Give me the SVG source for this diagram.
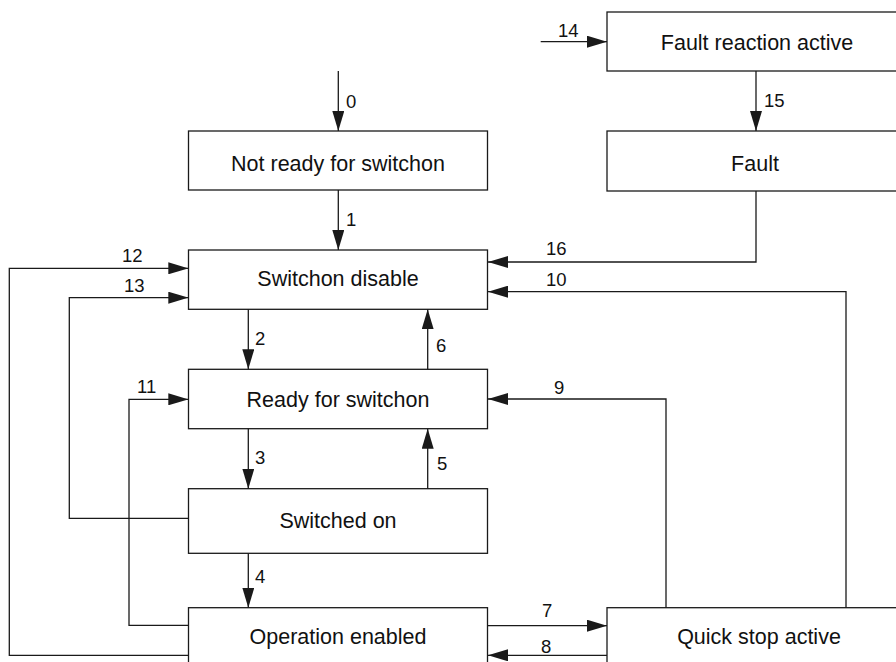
<svg xmlns="http://www.w3.org/2000/svg" width="896" height="662" viewBox="0 0 896 662">
<style>
.box{fill:#ffffff;stroke:#1a1a1a;stroke-width:1.3}
.st{font-family:"Liberation Sans",Arial,sans-serif;font-size:21.5px;fill:#111;text-anchor:middle}
.lb{font-family:"Liberation Sans",Arial,sans-serif;font-size:18.5px;fill:#111}
.cn{fill:none;stroke:#1a1a1a;stroke-width:1.3;marker-end:url(#ah)}
</style>
<defs>
<marker id="ah" markerUnits="userSpaceOnUse" markerWidth="20" markerHeight="12" refX="20" refY="6" orient="auto" viewBox="0 0 20 12">
<path d="M0,0 L20,6 L0,12 z" fill="#1a1a1a"/>
</marker>
</defs>
<rect width="896" height="662" fill="#ffffff"/>
<g id="notready"><rect class="box" x="188.5" y="131" width="299" height="59"/><text class="st" x="338" y="171">Not ready for switchon</text></g>
<g id="faultreaction"><rect class="box" x="607" y="12" width="300" height="59"/><text class="st" x="757" y="50">Fault reaction active</text></g>
<g id="fault"><rect class="box" x="607" y="131" width="300" height="60"/><text class="st" x="755" y="170.7">Fault</text></g>
<g id="switchondisable"><rect class="box" x="188.5" y="250" width="299" height="59.3"/><text class="st" x="338" y="286">Switchon disable</text></g>
<g id="ready"><rect class="box" x="188.5" y="369.3" width="299" height="59.4"/><text class="st" x="338" y="406.7">Ready for switchon</text></g>
<g id="switchedon"><rect class="box" x="188.5" y="488.7" width="299" height="64.6"/><text class="st" x="338" y="528.3">Switched on</text></g>
<g id="operation"><rect class="box" x="188.5" y="607.7" width="299" height="70"/><text class="st" x="338" y="644">Operation enabled</text></g>
<g id="quickstop"><rect class="box" x="607" y="607.7" width="300" height="70"/><text class="st" x="759" y="644">Quick stop active</text></g>
<g id="connectors">
<path class="cn" d="M338.3,71 V131"/>
<path class="cn" d="M338.3,190 V250"/>
<path class="cn" d="M248.3,309.3 V369.3"/>
<path class="cn" d="M248.3,428.7 V488.7"/>
<path class="cn" d="M248.3,553.3 V607.7"/>
<path class="cn" d="M427.7,488.7 V428.7"/>
<path class="cn" d="M427.7,369.3 V309.3"/>
<path class="cn" d="M487.7,625.7 H607"/>
<path class="cn" d="M607,655.3 H488"/>
<path class="cn" d="M666,607.7 V399 H488"/>
<path class="cn" d="M846,607.7 V291.7 H488"/>
<path class="cn" d="M188.3,625.3 H129 V399.3 H188.3"/>
<path class="cn" d="M188.3,655.3 H9.3 V268.3 H188.3"/>
<path class="cn" d="M188.3,518.3 H69.3 V297.7 H188.3"/>
<path class="cn" d="M540.7,41.7 H607"/>
<path class="cn" d="M756,71 V131"/>
<path class="cn" d="M756,191 V262 H488"/>
<text class="lb" x="346" y="107.7">0</text>
<text class="lb" x="346" y="225.5">1</text>
<text class="lb" x="255" y="345">2</text>
<text class="lb" x="255" y="464">3</text>
<text class="lb" x="255" y="583.3">4</text>
<text class="lb" x="437" y="469.8">5</text>
<text class="lb" x="436" y="352">6</text>
<text class="lb" x="542" y="617.3">7</text>
<text class="lb" x="541" y="653.3">8</text>
<text class="lb" x="554" y="394">9</text>
<text class="lb" x="546" y="285.5">10</text>
<text class="lb" x="137" y="392.7">11</text>
<text class="lb" x="122" y="261.7">12</text>
<text class="lb" x="124" y="292.3">13</text>
<text class="lb" x="558" y="37.3">14</text>
<text class="lb" x="764" y="107">15</text>
<text class="lb" x="546" y="255">16</text>
</g>
</svg>
